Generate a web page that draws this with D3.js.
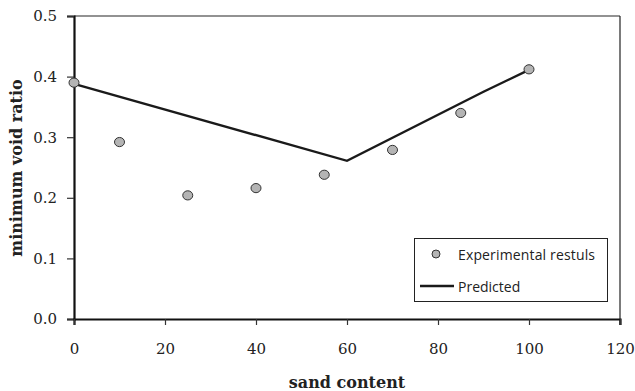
<!DOCTYPE html>
<html>
<head>
<meta charset="utf-8">
<script src="https://cdn.jsdelivr.net/npm/d3@7"></script>
<style>
  body { margin: 0; background: #fff; }
  svg { display: block; }
</style>
</head>
<body>
<svg id="chart" width="635" height="391"></svg>
<script>
// experimental points
let sandExp = [0, 10, 25, 40, 55, 70, 85, 100]
let voidExp = [0.390, 0.292, 0.204, 0.216, 0.238, 0.279, 0.340, 0.412]
// predicted line
let sandPred = [0, 60, 90, 100]
let voidPred = [0.388, 0.261, 0.375, 0.411]
let xTicks = [0, 20, 40, 60, 80, 100, 120]
let yTicks = [0, 0.1, 0.2, 0.3, 0.4, 0.5]

let svg = d3.select("#chart")
let plotLeft = 74, plotRight = 620, plotTop = 16, plotBottom = 319

let x = d3.scaleLinear().domain([0, 120]).range([plotLeft, plotRight])
let y = d3.scaleLinear().domain([0, 0.5]).range([plotBottom, plotTop])

let serif = "'DejaVu Serif', 'Liberation Serif', serif"

// top border (grey) and right border
svg.append("line").attr("x1", plotLeft).attr("x2", plotRight).attr("y1", plotTop).attr("y2", plotTop)
  .attr("stroke", "#6e6e6e").attr("stroke-width", 1.5)
svg.append("line").attr("x1", plotRight).attr("x2", plotRight).attr("y1", plotTop).attr("y2", plotBottom + 6)
  .attr("stroke", "#222").attr("stroke-width", 1.2)

// y axis
let yAxis = svg.append("g").attr("transform", "translate(" + plotLeft + ",0)")
  .call(d3.axisLeft(y).tickValues(yTicks).tickFormat(d3.format(".1f")).tickSize(7).tickPadding(10))
yAxis.select(".domain").attr("stroke", "#111").attr("stroke-width", 2.2)
yAxis.selectAll(".tick line").attr("stroke", "#333").attr("stroke-width", 1.2)
yAxis.selectAll("text").attr("font-family", serif).attr("font-size", 15).attr("fill", "#222")

// x axis
let xAxis = svg.append("g").attr("transform", "translate(0," + plotBottom + ")")
  .call(d3.axisBottom(x).tickValues(xTicks).tickSize(6).tickPadding(18))
xAxis.select(".domain").attr("stroke", "#111").attr("stroke-width", 2.2)
xAxis.selectAll(".tick line").attr("stroke", "#333").attr("stroke-width", 1.2)
xAxis.selectAll("text").attr("font-family", serif).attr("font-size", 15).attr("fill", "#222")

// predicted line
let predData = sandPred.map((d, i) => [d, voidPred[i]])
svg.append("path").datum(predData)
  .attr("d", d3.line().x(d => x(d[0])).y(d => y(d[1])))
  .attr("fill", "none").attr("stroke", "#1a1a1a").attr("stroke-width", 2.4)

// experimental points
svg.selectAll(".pt").data(sandExp).enter().append("ellipse")
  .attr("cx", d => x(d)).attr("cy", (d, i) => y(voidExp[i]))
  .attr("rx", 5).attr("ry", 4.6)
  .attr("fill", "#b4b4b4").attr("stroke", "#333").attr("stroke-width", 1)

// axis titles
svg.append("text").attr("x", 347).attr("y", 388).attr("text-anchor", "middle")
  .attr("font-family", serif).attr("font-weight", "bold").attr("font-size", 16)
  .attr("fill", "#222").text("sand content")
svg.append("text").attr("transform", "translate(22,168) rotate(-90)").attr("text-anchor", "middle")
  .attr("font-family", serif).attr("font-weight", "bold").attr("font-size", 16)
  .attr("fill", "#222").text("minimum void ratio")

// legend
let lg = svg.append("g")
lg.append("rect").attr("x", 414.5).attr("y", 238.5).attr("width", 193).attr("height", 63)
  .attr("fill", "#fff").attr("stroke", "#222").attr("stroke-width", 1)
lg.append("ellipse").attr("cx", 436).attr("cy", 254).attr("rx", 4).attr("ry", 4)
  .attr("fill", "#b4b4b4").attr("stroke", "#333").attr("stroke-width", 1)
lg.append("line").attr("x1", 420).attr("x2", 454).attr("y1", 286).attr("y2", 286)
  .attr("stroke", "#1a1a1a").attr("stroke-width", 2.4)
lg.append("text").attr("x", 458).attr("y", 260).attr("font-family", "'Open Sans', sans-serif")
  .attr("font-size", 14).attr("textLength", 137).attr("fill", "#222").text("Experimental restuls")
lg.append("text").attr("x", 458).attr("y", 292).attr("font-family", "'Open Sans', sans-serif")
  .attr("font-size", 14).attr("fill", "#222").text("Predicted")
</script>
</body>
</html>
